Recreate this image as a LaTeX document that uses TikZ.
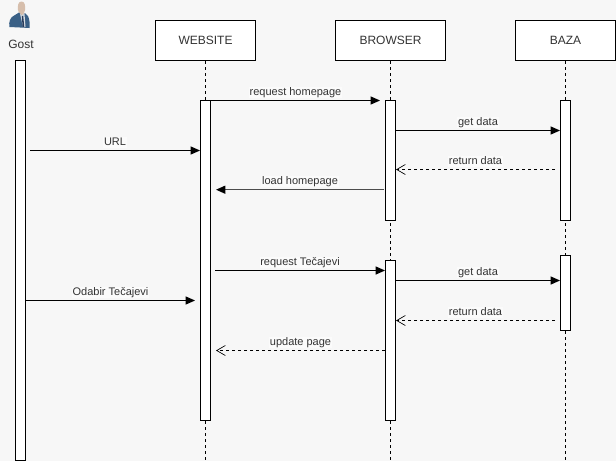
\documentclass[tikz,border=0pt]{standalone}
\usepackage{fontspec}
\setmainfont{Liberation Sans}
\usetikzlibrary{arrows.meta}
\definecolor{bgc}{HTML}{F7F7F7}
\definecolor{txt}{HTML}{333333}
\definecolor{skin}{RGB}{214,190,172}
\definecolor{suit}{RGB}{58,96,134}
\definecolor{shirt}{RGB}{215,220,225}
\definecolor{tie}{RGB}{40,60,92}
\tikzset{
  x=0.75pt,y=-0.75pt,
  every node/.style={font=\fontsize{8.25}{10}\selectfont,text=txt},
  headbox/.style={draw=black,fill=white,line width=0.75pt,inner sep=0pt,font=\fontsize{9}{11}\selectfont},
  bar/.style={draw=black,fill=white,line width=0.75pt,inner sep=0pt,minimum width=7.5pt},
  life/.style={draw=black,line width=0.75pt,dash pattern=on 2.25pt off 2.25pt},
  msg/.style={draw=black,line width=0.75pt,-{Triangle[length=7pt,width=6pt,black]}},
  ret/.style={draw=black,line width=0.75pt,dash pattern=on 2.25pt off 2.25pt,-{Straight Barb[length=6.5pt,width=7.5pt,line width=0.5pt]}},
  lab/.style={fill=white,fill opacity=0.6,text opacity=1,inner sep=0.5pt,text height=6pt,text depth=1.7pt,above=1.3pt},
}
\begin{document}
\begin{tikzpicture}
\useasboundingbox (0,0) rectangle (616,461);
\fill[bgc] (0,0) rectangle (616,461);

% lifelines' ends
\coordinate (wEnd) at (205.5,460);
\coordinate (bEnd) at (390.5,460);
\coordinate (dEnd) at (565.5,460);

% header boxes
\node[headbox,minimum width=75pt,minimum height=30pt] (website) at (205.5,40.5) {WEBSITE};
\node[headbox,minimum width=82.5pt,minimum height=30pt] (browser) at (390.5,40.5) {BROWSER};
\node[headbox,minimum width=75pt,minimum height=30pt] (baza) at (565.5,40.5) {BAZA};

\draw[life] (website.south) -- (wEnd);
\draw[life] (browser.south) -- (bEnd);
\draw[life] (baza.south) -- (dEnd);

% activation bars
\node[bar,minimum height=300pt] (gostBar) at (20.5,260.5) {};
\node[bar,minimum height=240pt] (webBar) at (205.5,260.5) {};
\node[bar,minimum height=90pt] (brBarA) at (390.5,160.5) {};
\node[bar,minimum height=120pt] (brBarB) at (390.5,340.5) {};
\node[bar,minimum height=90pt] (dbBarA) at (565.5,160.5) {};
\node[bar,minimum height=56.25pt] (dbBarB) at (565.5,293) {};

% actor
\node (gost) at (21,44.5) {\fontsize{9}{11}\selectfont Gost};
\fill[skin] (21.5,1.5) .. controls (25,1.5) and (25.5,6) .. (25,10) .. controls (24.5,13) and (23.5,15) .. (21.5,15.5) .. controls (19.5,15) and (18.5,12) .. (18,10) .. controls (17.5,6) and (18,1.5) .. (21.5,1.5) -- cycle;
\fill[suit] (9.5,27) .. controls (8.5,22) and (10,17) .. (15,15) -- (19,12.5) -- (22.5,16) -- (25,13) -- (28,16) .. controls (29.5,19) and (30,24) .. (29.5,28) -- (20,27.5) -- cycle;
\fill[shirt] (20,13.5) -- (22.5,16) -- (24.5,14) -- (25.5,27) -- (23,27) -- cycle;
\fill[tie] (21.8,16) -- (23.2,16) -- (24.3,27) -- (22.6,27) -- cycle;

% message ends
\coordinate (a1) at (webBar.east |- 0,100.5);
\coordinate (a2) at (380,100.5);
\coordinate (b1) at (30,150.5);
\coordinate (b2) at (webBar.west |- 0,150.5);
\coordinate (c1) at (brBarA.east |- 0,130.5);
\coordinate (c2) at (dbBarA.west |- 0,130.5);
\coordinate (d1) at (555,169.5);
\coordinate (d2) at (396,169.5);
\coordinate (e1) at (384,189.7);
\coordinate (e2) at (216,189.7);
\coordinate (f1) at (215,270.5);
\coordinate (f2) at (brBarB.west |- 0,270.5);
\coordinate (g1) at (brBarB.east |- 0,280.5);
\coordinate (g2) at (dbBarB.west |- 0,280.5);
\coordinate (h1) at (555,320.5);
\coordinate (h2) at (396,320.5);
\coordinate (i1) at (gostBar.east |- 0,300.5);
\coordinate (i2) at (195,300.5);
\coordinate (j1) at (brBarB.west |- 0,350.5);
\coordinate (j2) at (216,350.5);

% messages
\draw[msg] (a1) -- node[lab] (la) {request homepage} (a2);
\draw[msg] (b1) -- node[lab] (lb) {URL} (b2);
\draw[msg] (c1) -- node[lab] (lc) {get data} (c2);
\draw[ret] (d1) -- node[lab] (ld) {return data} (d2);
\draw[msg,line width=1pt,draw=black!70] (e1) -- node[lab] (le) {load homepage} (e2);
\draw[msg] (f1) -- node[lab] (lf) {request Tečajevi} (f2);
\draw[msg] (g1) -- node[lab] (lg) {get data} (g2);
\draw[ret] (h1) -- node[lab] (lh) {return data} (h2);
\draw[msg] (i1) -- node[lab] (li) {Odabir Tečajevi} (i2);
\draw[ret] (j1) -- node[lab] (lj) {update page} (j2);
\end{tikzpicture}
\end{document}
